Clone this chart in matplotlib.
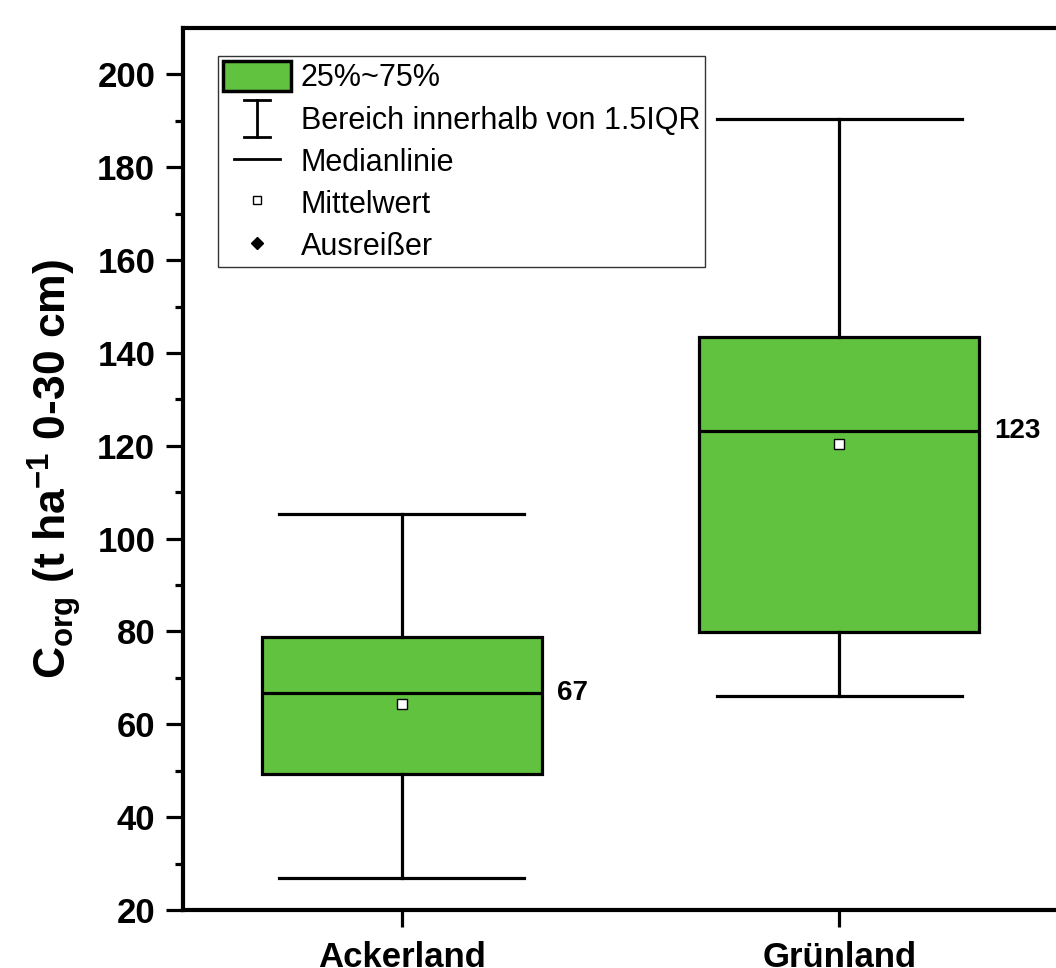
import numpy as np
import matplotlib.pyplot as plt
from matplotlib.patches import Rectangle
from matplotlib.lines import Line2D
from matplotlib.legend_handler import HandlerBase

plt.rcParams['font.family'] = ['Liberation Sans', 'DejaVu Sans']
plt.rcParams['mathtext.fontset'] = 'custom'
plt.rcParams['mathtext.rm'] = 'Liberation Sans'
plt.rcParams['mathtext.bf'] = 'Liberation Sans:bold'
plt.rcParams['axes.unicode_minus'] = False

categories = ["Ackerland", "Grünland"]
whislo = [27.0, 66.2]
q1 = [49.3, 79.9]
med = [66.8, 123.2]
q3 = [78.8, 143.5]
whishi = [105.2, 190.3]
means = [64.4, 120.4]
median_labels = ["67", "123"]

green = "#61C23F"

fig = plt.figure(figsize=(10.56, 9.68), dpi=100)
ax = fig.add_axes([0.1733, 0.0599, 0.8286, 0.9112])

stats = []
for i, name in enumerate(categories):
    stats.append(dict(label=name, whislo=whislo[i], q1=q1[i], med=med[i],
                      q3=q3[i], whishi=whishi[i], mean=means[i], fliers=[]))

pos = [1, 2]
ax.bxp(stats, positions=pos, widths=0.64, patch_artist=True, showmeans=True,
       showfliers=False, capwidths=0.56,
       boxprops=dict(facecolor=green, edgecolor="black", linewidth=2.3),
       whiskerprops=dict(color="black", linewidth=2.3),
       capprops=dict(color="black", linewidth=2.3),
       medianprops=dict(color="black", linewidth=2.3),
       meanprops=dict(marker="s", markerfacecolor="white", markeredgecolor="black",
                      markersize=7, markeredgewidth=1))

for p, m, lab in zip(pos, med, median_labels):
    ax.text(p + 0.355, m, lab, fontsize=20, fontweight="bold", va="center", ha="left")

ax.set_xlim(0.5, 2.5)
ax.set_ylim(20, 210)
ax.set_yticks(np.arange(20, 201, 20))
ax.set_yticks(np.arange(30, 201, 20), minor=True)
ax.set_xticks(pos)
ax.set_xticklabels(categories)

for s in ax.spines.values():
    s.set_linewidth(3)
ax.tick_params(axis="both", which="major", direction="out", length=12, width=2.3,
               labelsize=25, pad=8)
ax.tick_params(axis="y", which="minor", direction="out", length=6, width=2.3)
ax.tick_params(axis="x", which="major", pad=10)
for t in ax.get_xticklabels() + ax.get_yticklabels():
    t.set_fontweight("bold")

ax.set_ylabel(r"$\mathbf{C_{org}}$ (t ha$^{\mathbf{-1}}$ 0-30 cm)", fontsize=32,
              fontweight="bold", labelpad=10)


class SegHandler(HandlerBase):
    # draws line segments given in fractions of the handle box
    def __init__(self, segs, lw=2):
        super().__init__()
        self.segs = segs
        self.lw = lw

    def create_artists(self, legend, orig_handle, xd, yd, width, height, fontsize, trans):
        out = []
        for (x0, y0), (x1, y1) in self.segs:
            l = Line2D([xd + x0 * width, xd + x1 * width],
                       [yd + y0 * height, yd + y1 * height],
                       color="black", linewidth=self.lw, transform=trans)
            out.append(l)
        return out


class WhiskerKey:
    pass


class MedianKey:
    pass


whisker_segs = [((0.5, -0.42), (0.5, 0.78)),
                ((0.31, 0.78), (0.69, 0.78)),
                ((0.31, -0.42), (0.69, -0.42))]
median_segs = [((0.17, 0.22), (0.83, 0.22))]

handles = [
    Rectangle((0, 0), 1, 1, facecolor=green, edgecolor="black", linewidth=2.5),
    WhiskerKey(),
    MedianKey(),
    Line2D([], [], linestyle="none", marker="s", markerfacecolor="white",
           markeredgecolor="black", markersize=6, markeredgewidth=1),
    Line2D([], [], linestyle="none", marker="D", color="black", markersize=6),
]
labels = ["25%~75%", "Bereich innerhalb von 1.5IQR", "Medianlinie", "Mittelwert", "Ausreißer"]
leg = ax.legend(handles, labels, loc="upper left", bbox_to_anchor=(0.04, 0.968),
                borderaxespad=0, fontsize=22, handlelength=2.25, handleheight=1.15,
                labelspacing=0.32, handletextpad=0.3, borderpad=0.15,
                fancybox=False, edgecolor="#333333", framealpha=1,
                handler_map={WhiskerKey: SegHandler(whisker_segs),
                             MedianKey: SegHandler(median_segs)})
leg.get_frame().set_linewidth(1)

fig.savefig("out.png", dpi=100)
